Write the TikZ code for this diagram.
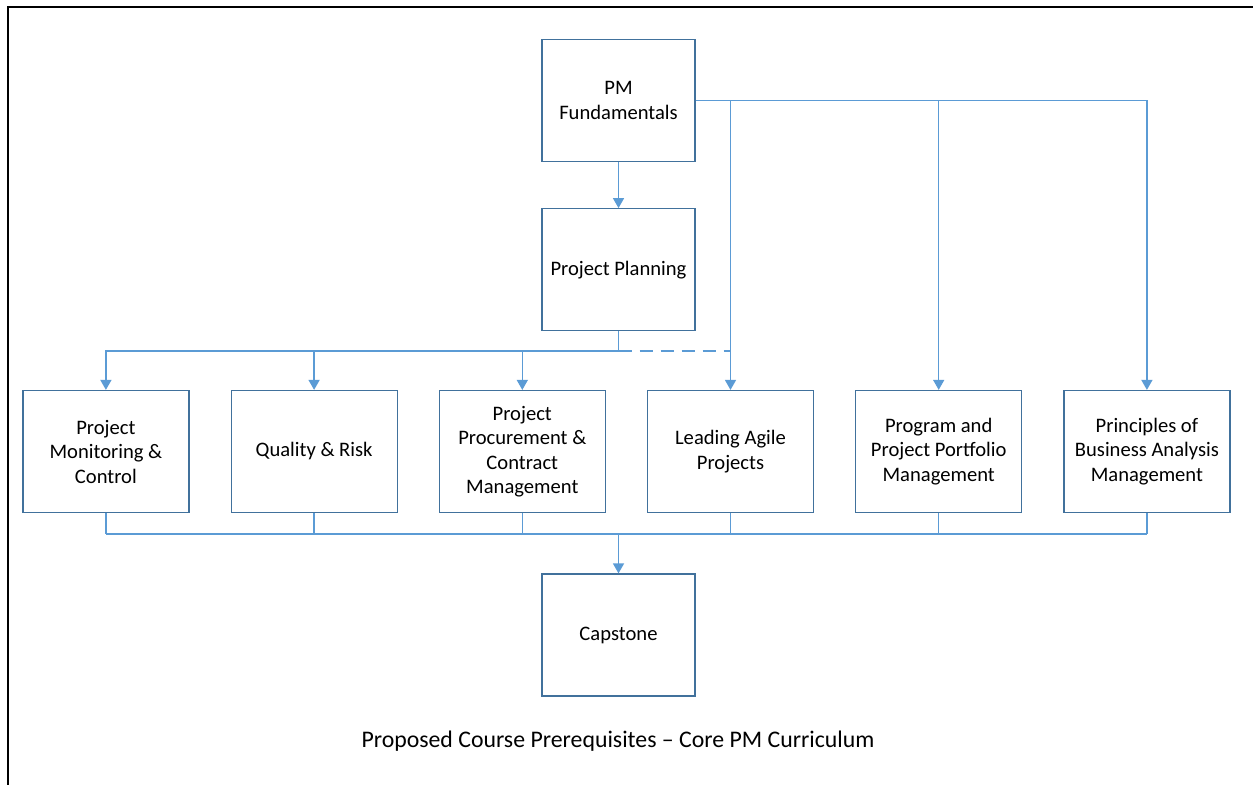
\documentclass[tikz,border=0pt]{standalone}
\usepackage{fontspec}
\setmainfont{Carlito}
\usepackage{tikz}
\usetikzlibrary{positioning,calc,arrows.meta}
\definecolor{boxblue}{HTML}{41719C}
\definecolor{linkblue}{HTML}{5B9BD5}

\begin{document}
\begin{tikzpicture}[x=0.5pt,y=-0.5pt,node distance=20.5pt]
\tikzstyle{course}=[draw=boxblue,line width=0.6pt,fill=white,align=center,
  minimum width=83pt,inner sep=2.5pt,minimum height=61pt,
  font=\fontsize{10.3}{12.25}\selectfont]
\tikzstyle{core}=[course,minimum width=76.5pt]
\tikzstyle{link}=[draw=linkblue,line width=0.75pt]
\tikzstyle{arr}=[link,-{Triangle[width=5.5pt,length=5pt]}]
\useasboundingbox (0,0) rectangle (1253,785);
\draw[line width=1pt] (8,785) -- (8,7) -- (1253,7);

% core chain
\node[core]   (fund)  at (618.5,100.5)   {PM\\Fundamentals};
\node[core]   (plan)  [below=23pt of fund]   {Project Planning};

% second row
\node[course] (agile) at (730.5,451.5)   {Leading Agile\\Projects};
\node[course] (ppc)   [left=of agile]   {Project\\Procurement \&\\Contract\\Management};
\node[course] (qr)    [left=of ppc]   {Quality \& Risk};
\node[course] (mc)    [left=of qr]   {Project\\Monitoring \&\\Control};
\node[course] (ppm)   [right=of agile]   {Program and\\Project Portfolio\\Management};
\node[course] (pba)   [right=of ppm]   {Principles of\\Business Analysis\\Management};

\node[core]   (cap)   at (618.5,635)   {Capstone};
\node[font=\fontsize{11.9}{14}\selectfont] (title) at (618,741)
  {Proposed Course Prerequisites -- Core PM Curriculum};

\coordinate (pbus) at (618.5,351);
\coordinate (cbus) at (618.5,534);

\draw[arr] (fund) -- (plan);
\draw[arr] (fund.east) -| (pba.north);
\draw[arr] (fund.east -| agile.north) -- (agile.north);
\draw[arr] (fund.east -| ppm.north) -- (ppm.north);

\draw[link] (plan.south) -- (pbus);
\draw[arr] (pbus) -| (mc.north);
\draw[arr] (pbus -| qr.north) -- (qr.north);
\draw[arr] (pbus -| ppc.north) -- (ppc.north);
\draw[link,dash pattern=on 6.5pt off 4pt] (pbus) -- (pbus -| agile.north);

\foreach \n in {mc,qr,ppc,agile,ppm,pba}
  \draw[link] (\n.south) -- (\n.south |- cbus);
\draw[link] (mc.south |- cbus) -- (pba.south |- cbus);
\draw[arr] (cbus) -- (cap.north);

\end{tikzpicture}
\end{document}
